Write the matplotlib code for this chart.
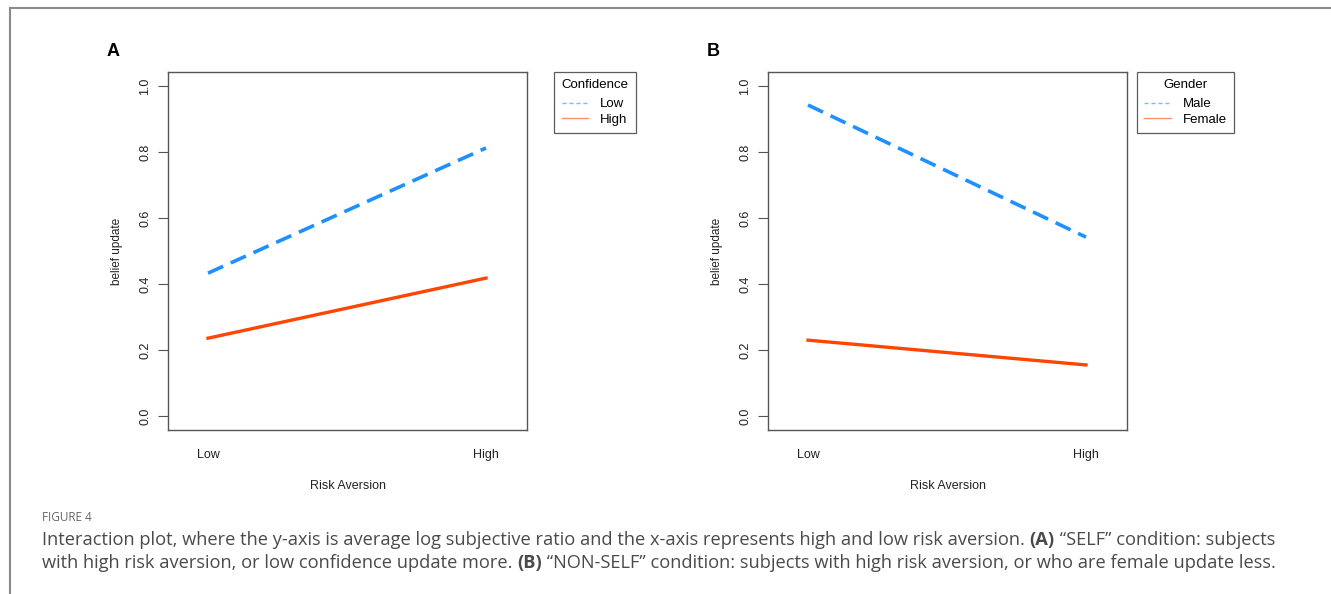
import matplotlib
matplotlib.use("Agg")
import matplotlib.pyplot as plt
from matplotlib.lines import Line2D

# data
levels = ["Low", "High"]               # Risk Aversion
conf_names = ["Low", "High"]           # Confidence (panel A)
conf_low = [0.433, 0.812]
conf_high = [0.236, 0.418]
gender_names = ["Male", "Female"]      # Gender (panel B)
male = [0.942, 0.542]
female = [0.230, 0.155]
yticks = [0.0, 0.2, 0.4, 0.6, 0.8, 1.0]

BLUE = "#1E90FF"
RED = "#FF4500"
W, H = 1331, 594

plt.rcParams['font.family'] = ['Liberation Sans', 'DejaVu Sans']

fig = plt.figure(figsize=(W/100, H/100), dpi=100)

def fx(px): return px / W
def fy(py): return 1 - py / H

# outer frame of the figure box
fig.add_artist(Line2D([fx(10), fx(10)], [fy(8), 0], color="#8a8a8a", lw=1.5))
fig.add_artist(Line2D([fx(10), fx(1330)], [fy(8), fy(8)], color="#8a8a8a", lw=1.5))


def panel(left_px, label, series, names, title, leg_left):
    ax = fig.add_axes([fx(left_px), fy(430), fx(359), 358 / H])
    x = list(range(1, len(levels) + 1))
    ax.plot(x, series[0], color=BLUE, lw=2.6, ls=(0, (4.6, 2.3)), label=names[0])
    ax.plot(x, series[1], color=RED, lw=2.4, label=names[1])
    ax.set_xlim(1 - 40/278, 2 + 41/278)
    ax.set_ylim(-0.042, 1.042)
    ax.set_xticks(x)
    ax.set_xticklabels(levels)
    ax.set_yticks(yticks)
    ax.set_yticklabels([f"{v:.1f}" for v in yticks], rotation=90, va="center")
    ax.tick_params(axis="x", length=0, pad=14, labelsize=9, colors="#222")
    ax.tick_params(axis="y", length=7, width=0.8, pad=5, labelsize=9, color="#555", labelcolor="#222")
    for s in ax.spines.values():
        s.set_color("#555")
        s.set_linewidth(1.0)
    ax.set_xlabel("Risk Aversion", fontsize=9, labelpad=13, color="#222")
    ax.set_ylabel("belief update", fontsize=8.5, labelpad=12, color="#222")
    fig.text(fx(left_px - 61), fy(52), label, fontsize=13, fontweight="bold",
             ha="left", va="center")
    hl = [Line2D([], [], color=BLUE, lw=1, ls=(0, (3, 2)), alpha=0.6),
          Line2D([], [], color=RED, lw=1, alpha=0.6)]
    leg = ax.legend(hl, names, title=title, loc="upper left",
                    bbox_to_anchor=(fx(leg_left), fy(72)), bbox_transform=fig.transFigure,
                    borderaxespad=0, fontsize=9.5, title_fontsize=9.5, frameon=True,
                    fancybox=False, edgecolor="#333", handlelength=2.0,
                    handletextpad=0.9, labelspacing=0.22, borderpad=0.55)
    leg.get_frame().set_linewidth(0.9)
    leg._legend_box.sep = 5
    return ax


panel(168, "A", [conf_low, conf_high], conf_names, "Confidence", 554)
panel(768, "B", [male, female], gender_names, "Gender", 1137)

# caption
fig.text(fx(42), fy(521), "FIGURE 4", fontsize=8.5, color="#666",
         family="Open Sans", va="baseline")

cap_lines = [
    [("Interaction plot, where the y-axis is average log subjective ratio and the x-axis "
      "represents high and low risk aversion. ", "normal"), ("(A)", "bold"),
     (" \u201cSELF\u201d condition: subjects", "normal")],
    [("with high risk aversion, or low confidence update more. ", "normal"), ("(B)", "bold"),
     (" \u201cNON-SELF\u201d condition: subjects with high risk aversion, or who are female update less.",
      "normal")],
]
fig.canvas.draw()
r = fig.canvas.get_renderer()
for i, segs in enumerate(cap_lines):
    xpx = 42
    ypx = 545 + 23 * i
    for s, w in segs:
        t = fig.text(fx(xpx), fy(ypx), s, fontsize=13.15, family="Open Sans",
                     fontweight=w, color="#4a4a4a", va="baseline")
        xpx += t.get_window_extent(r).width

fig.savefig("out.png", dpi=100)
